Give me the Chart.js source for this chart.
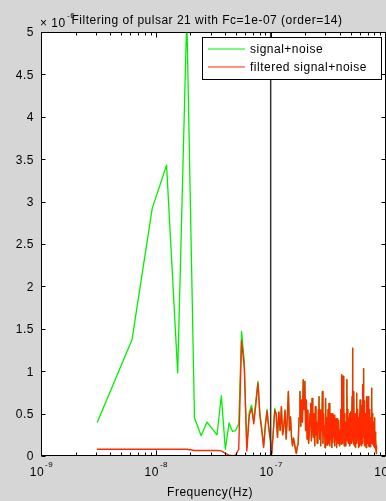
<!DOCTYPE html>
<html>
<head>
<meta charset="utf-8">
<script src="https://cdn.jsdelivr.net/npm/chart.js@4.4.1/dist/chart.umd.min.js"></script>
<style>
  html, body { margin: 0; padding: 0; background: #d6d6d6; }
  canvas { display: block; }
</style>
</head>
<body>
<canvas id="chart" width="386" height="501"></canvas>
<script>
// Frequenz-Bins (Abstand df), Werte in Einheiten von 1e-6
const df = 3.1e-9
const cutoffFreq = 1e-7
const yTicks = [0, 0.5, 1, 1.5, 2, 2.5, 3, 3.5, 4, 4.5, 5]
const xDecades = [1e-9, 1e-8, 1e-7, 1e-6]
const xTickExponents = ['-9', '-8', '-7', '-6']

// Bins 1..35: Signal (grün) und gefiltertes Signal (rot) unterscheiden sich
const greenLow = [
  0.40, 1.37, 2.92, 3.43, 0.98, 5.20, 0.45, 0.24, 0.40, 0.32,
  0.25, 0.71, 0.08, 0.39, 0.29, 0.30, 0.38, 1.47, 1.12, 0.10,
  0.52, 0.60, 0.42, 0.66, 0.88, 0.50, 0.33, 0.12, 0.38, 0.55,
  0.35, 0.22, 0.04, 0.30, 0.56
]
const redLow = [
  0.08, 0.08, 0.08, 0.08, 0.08, 0.08, 0.065, 0.065, 0.065, 0.065,
  0.065, 0.06, 0.03, 0.01, 0.005, 0.01, 0.08, 1.36, 1.05, 0.06,
  0.48, 0.56, 0.38, 0.62, 0.86, 0.47, 0.30, 0.10, 0.35, 0.53,
  0.33, 0.20, 0.02, 0.28, 0.54
]
// Bins 36..270: oberhalb der Grenzfrequenz praktisch identisch
const noiseHigh = [
  0.50, 0.22, 0.52, 0.30, 0.58, 0.25, 0.35, 0.54, 0.20, 0.44,
  0.76, 0.30, 0.46, 0.23, 0.12, 0.21, 0.15, 0.08, 0.03, 0.11,
  0.14, 0.45, 0.76, 0.35, 0.66, 0.40, 0.90, 0.55, 0.88, 0.30,
  0.66, 0.20, 0.54, 0.15, 0.27, 0.50, 0.62, 0.18, 0.68, 0.31,
  0.22, 0.50, 0.12, 0.58, 0.25, 0.40, 0.15, 0.23, 0.55, 0.70,
  0.20, 0.54, 0.12, 0.45, 0.30, 0.76, 0.15, 0.50, 0.25, 0.35,
  0.10, 0.68, 0.20, 0.45, 0.13, 0.27, 0.55, 0.15, 0.62, 0.30,
  0.12, 0.50, 0.19, 0.40, 0.10, 0.50, 0.16, 0.46, 0.22, 0.48,
  0.12, 0.35, 0.44, 0.18, 0.40, 0.10, 0.44, 0.20, 0.38, 0.15,
  0.42, 0.19, 0.30, 0.12, 0.31, 0.22, 0.55, 0.14, 0.96, 0.30,
  0.80, 0.15, 0.94, 0.25, 0.60, 0.12, 0.50, 0.35, 0.20, 0.40,
  0.12, 0.35, 0.25, 0.90, 0.18, 0.55, 0.30, 0.15, 0.45, 0.19,
  0.40, 0.12, 0.50, 0.20, 0.19, 0.52, 0.15, 0.45, 0.25, 0.70,
  0.18, 1.27, 0.30, 0.60, 0.14, 0.76, 0.22, 0.50, 0.12, 0.45,
  0.25, 0.50, 0.10, 0.40, 0.20, 0.74, 0.15, 0.55, 0.30, 0.19,
  0.45, 0.10, 0.35, 0.19, 0.40, 0.12, 0.50, 0.25, 0.66, 0.18,
  0.42, 0.14, 0.55, 0.30, 0.42, 0.12, 0.60, 0.20, 0.84, 0.15,
  0.50, 0.22, 1.03, 0.30, 0.55, 0.12, 0.65, 0.20, 0.45, 0.14,
  0.40, 0.25, 0.50, 0.10, 0.35, 0.18, 0.70, 0.20, 0.45, 0.15,
  0.35, 0.22, 0.70, 0.12, 0.50, 0.25, 0.42, 0.11, 0.38, 0.20,
  0.55, 0.11, 0.30, 0.18, 0.45, 0.12, 0.35, 0.20, 0.80, 0.15,
  0.60, 0.25, 0.45, 0.19, 0.50, 0.14, 0.40, 0.22, 0.30, 0.12,
  0.35, 0.19, 0.45, 0.15, 0.30, 0.10, 0.28, 0.15, 0.22, 0.08,
  0.20, 0.06, 0.12, 0.05, 0.03
]

const greenValues = greenLow.concat(noiseHigh)
const redValues = redLow.concat(noiseHigh)
const toPoints = (values) => values.map((v, i) => ({ x: (i + 1) * df, y: v }))

const FONT = '"Liberation Sans", Arial, Helvetica, sans-serif'

// Achsen, Beschriftung und Legende im MATLAB-Stil
const matlabFrame = {
  id: 'matlabFrame',
  beforeDraw(chart) {
    const { ctx, chartArea: a } = chart
    ctx.save()
    ctx.fillStyle = '#d6d6d6'
    ctx.fillRect(0, 0, chart.width, chart.height)
    ctx.fillStyle = '#ffffff'
    ctx.fillRect(a.left, a.top, a.right - a.left, a.bottom - a.top)
    ctx.restore()
  },
  afterDraw(chart) {
    const { ctx, chartArea: a, scales } = chart
    const xs = scales.x, ys = scales.y
    const L = Math.round(a.left) + 0.5, R = Math.round(a.right) - 0.5
    const T = Math.round(a.top) + 0.5, B = Math.round(a.bottom) - 0.5
    ctx.save()
    ctx.strokeStyle = '#000'
    ctx.lineWidth = 1
    ctx.strokeRect(L, T, R - L, B - T)

    ctx.beginPath()
    // y-Ticks links und rechts
    yTicks.forEach(v => {
      const y = Math.round(ys.getPixelForValue(v)) + 0.5
      ctx.moveTo(L, y); ctx.lineTo(L + 4, y)
      ctx.moveTo(R, y); ctx.lineTo(R - 4, y)
    })
    // x-Ticks (Dekaden und Zwischenwerte) unten und oben
    for (let d = 0; d < xDecades.length; d++) {
      for (let m = 1; m <= 9; m++) {
        if (d === xDecades.length - 1 && m > 1) break
        const x = Math.round(xs.getPixelForValue(xDecades[d] * m)) + 0.5
        const len = m === 1 ? 5 : 3
        ctx.moveTo(x, B); ctx.lineTo(x, B - len)
        ctx.moveTo(x, T); ctx.lineTo(x, T + len)
      }
    }
    ctx.stroke()

    ctx.fillStyle = '#000'
    ctx.letterSpacing = '0.5px'
    // y-Beschriftung
    ctx.font = '12px ' + FONT
    ctx.textAlign = 'right'
    ctx.textBaseline = 'middle'
    yTicks.forEach(v => {
      ctx.fillText(String(v), 34, ys.getPixelForValue(v) + 1)
    })
    // x-Beschriftung 10^n
    ctx.textAlign = 'left'
    ctx.textBaseline = 'alphabetic'
    xDecades.forEach((v, i) => {
      ctx.font = '12px ' + FONT
      const wBase = ctx.measureText('10').width
      ctx.font = '8px ' + FONT
      const wExp = ctx.measureText(xTickExponents[i]).width
      const x0 = xs.getPixelForValue(v) - (wBase + wExp) / 2
      ctx.font = '12px ' + FONT
      ctx.fillText('10', x0, 476)
      ctx.font = '8px ' + FONT
      ctx.fillText(xTickExponents[i], x0 + wBase + 1, 467)
    })
    // Exponent der y-Achse
    ctx.font = '12px ' + FONT
    ctx.fillText('\u00d7 10', 40, 27)
    ctx.font = '8px ' + FONT
    ctx.fillText('-6', 67, 18)
    // Titel
    ctx.font = '12px ' + FONT
    ctx.textAlign = 'center'
    ctx.fillText('Filtering of pulsar 21 with Fc=1e-07 (order=14)', 207, 24)
    // Achsentitel
    ctx.fillText('Frequency(Hz)', 210, 496)

    // Legende
    const lx = 202.5, ly = 37.5, lw = 179, lh = 42
    ctx.fillStyle = '#fff'
    ctx.fillRect(lx, ly, lw, lh)
    ctx.strokeStyle = '#000'
    ctx.strokeRect(lx, ly, lw, lh)
    const entries = chart.data.datasets.filter(ds => ds.label)
    entries.forEach((ds, i) => {
      const y = 49 + i * 18
      ctx.strokeStyle = ds.borderColor
      ctx.lineWidth = 1.2
      ctx.beginPath()
      ctx.moveTo(208, y); ctx.lineTo(245, y)
      ctx.stroke()
      ctx.fillStyle = '#000'
      ctx.textAlign = 'left'
      ctx.textBaseline = 'middle'
      ctx.font = '12px ' + FONT
      ctx.fillText(ds.label, 250, y + 1)
    })
    ctx.restore()
  }
}

new Chart(document.getElementById('chart'), {
  type: 'line',
  data: {
    datasets: [
      {
        label: 'signal+noise',
        data: toPoints(greenValues),
        borderColor: '#00f000',
        borderWidth: 1.3,
        order: 3
      },
      {
        label: 'filtered signal+noise',
        data: toPoints(redValues),
        borderColor: '#ff2a00',
        borderWidth: 1.4,
        order: 2
      },
      {
        label: '',
        data: [{ x: cutoffFreq, y: 0 }, { x: cutoffFreq, y: 5 }],
        borderColor: '#333333',
        borderWidth: 1.5,
        order: 1
      }
    ]
  },
  options: {
    responsive: false,
    animation: false,
    devicePixelRatio: 1,
    layout: { padding: { left: 41, top: 32, right: 0.5, bottom: 45 } },
    elements: {
      point: { radius: 0 },
      line: { tension: 0, borderJoinStyle: 'round', borderCapStyle: 'round' }
    },
    scales: {
      x: { type: 'logarithmic', min: 1e-9, max: 1e-6, display: false },
      y: { type: 'linear', min: 0, max: 5, display: false }
    },
    plugins: {
      legend: { display: false },
      tooltip: { enabled: false }
    }
  },
  plugins: [matlabFrame]
})
</script>
</body>
</html>
